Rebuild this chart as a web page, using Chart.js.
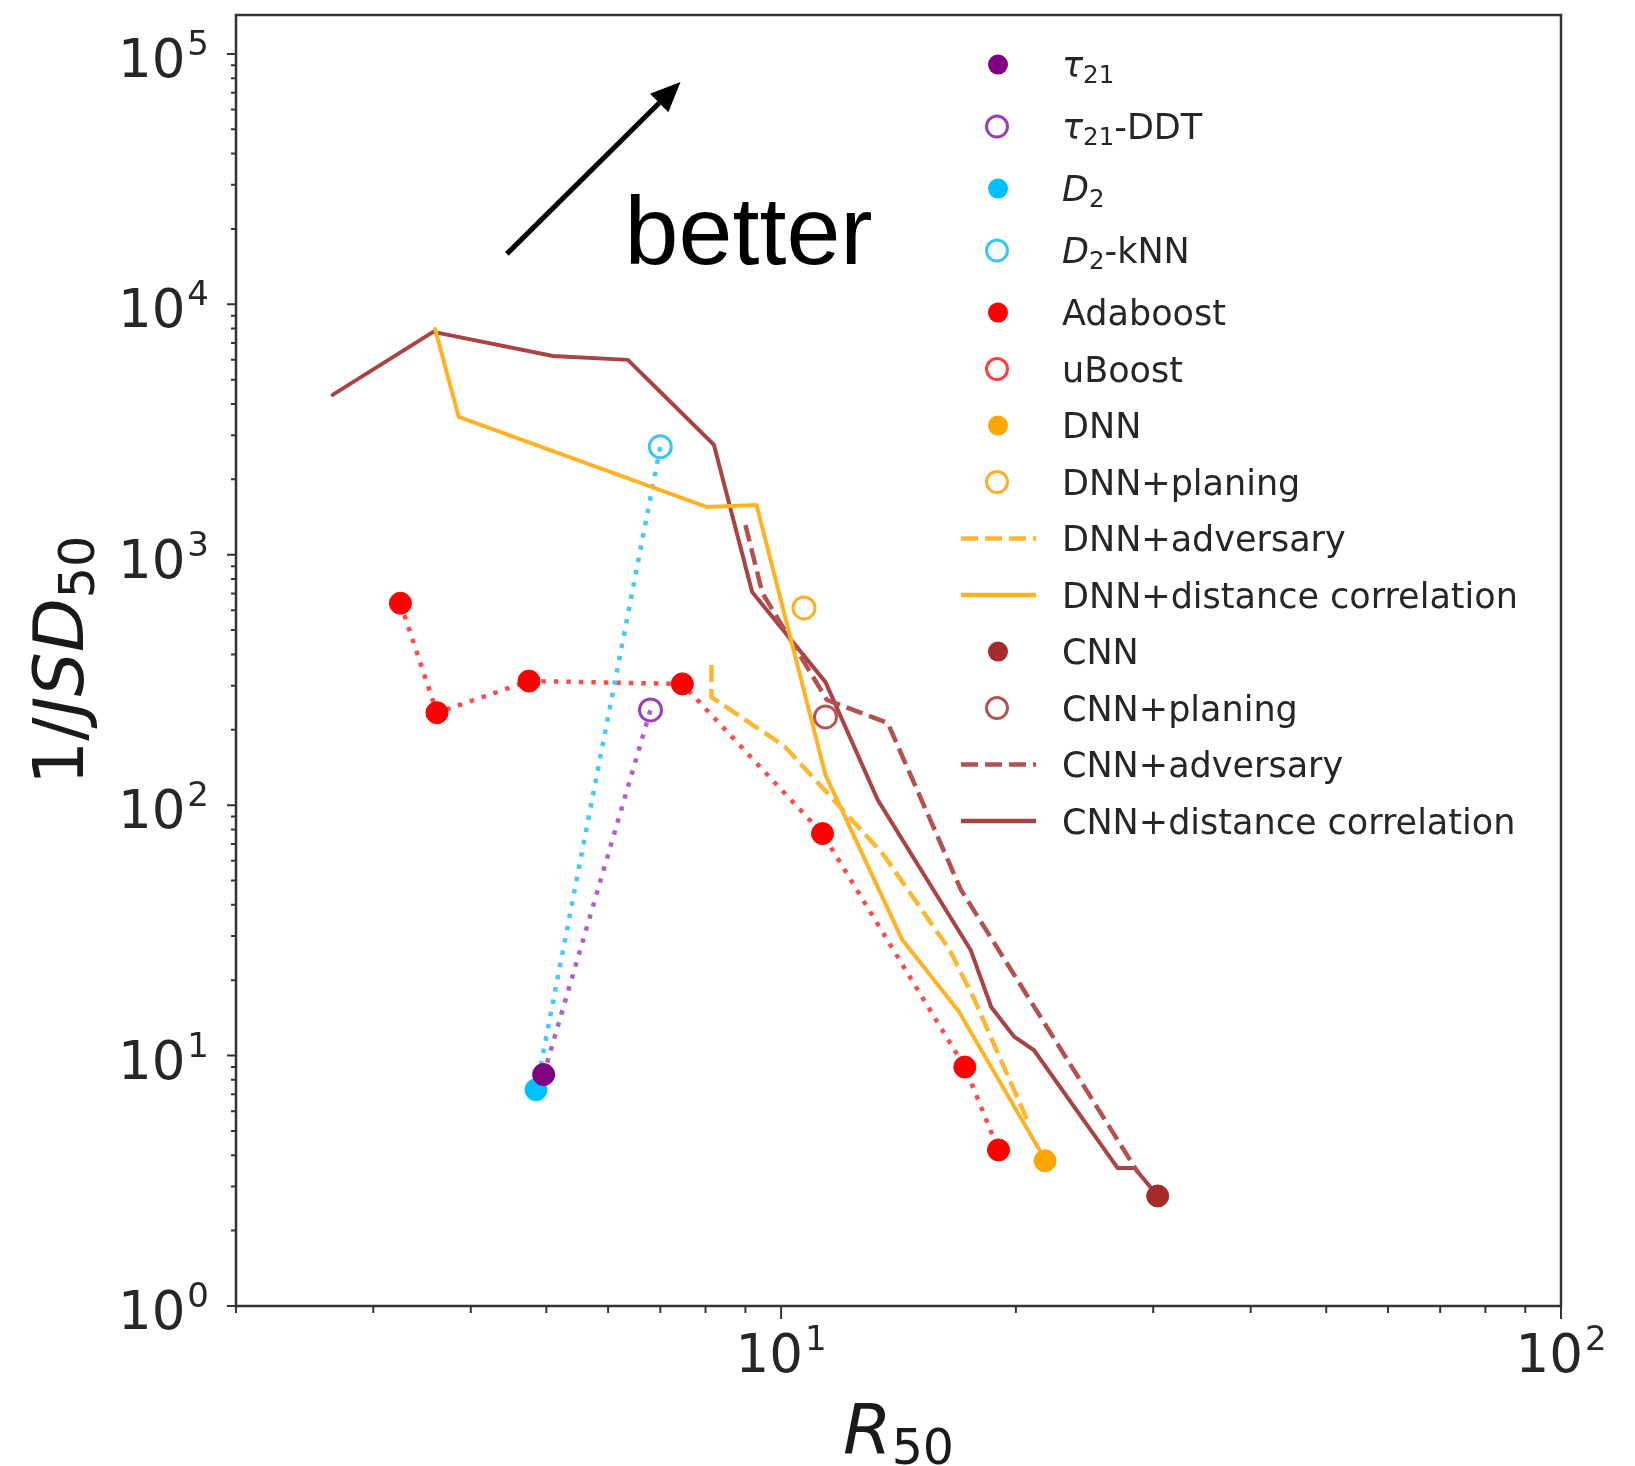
<!DOCTYPE html>
<html>
<head>
<meta charset="utf-8">
<script src="https://cdn.jsdelivr.net/npm/chart.js@4.4.1/dist/chart.umd.min.js"></script>
<style>
  html, body { margin: 0; padding: 0; background: #fff; }
  #wrap { width: 1635px; height: 1466px; }
</style>
</head>
<body>
<div id="wrap"><canvas id="chart" width="1635" height="1466"></canvas></div>
<script>
// R50 (x) and 1/JSD50 (y)
const tau21R50 = [4.96];
const tau21Inv = [8.4];
const tau21DdtR50 = [6.8];
const tau21DdtInv = [240];
const d2R50 = [4.85];
const d2Inv = [7.3];
const d2KnnR50 = [7.0];
const d2KnnInv = [2700];
const adaboostR50 = [3.25, 3.62, 4.75, 7.47, 11.3, 17.2, 19.0];
const adaboostInv = [640, 234, 313, 305, 77, 9.0, 4.2];
const uboostR50 = [];
const uboostInv = [];
const dnnR50 = [21.8];
const dnnInv = [3.8];
const dnnPlaningR50 = [10.7];
const dnnPlaningInv = [613];
const dnnAdvR50 = [8.14, 8.14, 10.1, 13.5, 16.45, 17.7, 20.75];
const dnnAdvInv = [363, 270, 172, 64, 26.4, 16.7, 5.4];
const dnnDcR50 = [3.60, 3.86, 8.04, 9.3, 11.4, 14.3, 16.9, 21.8];
const dnnDcInv = [7980, 3550, 1550, 1580, 132, 29, 15, 3.85];
const cnnR50 = [30.4];
const cnnInv = [2.75];
const cnnPlaningR50 = [11.4];
const cnnPlaningInv = [225];
const cnnAdvR50 = [9.0, 9.46, 11.45, 13.7, 17.0, 28.7];
const cnnAdvInv = [1315, 704, 263, 213, 46, 3.4];
const cnnDcR50 = [2.66, 3.58, 5.1, 6.36, 8.2, 9.18, 11.4, 13.3, 17.5, 18.6, 19.9, 21.1, 27.0, 28.4, 30.4];
const cnnDcInv = [4350, 7760, 6220, 6000, 2750, 710, 310, 105, 26.4, 15.6, 11.9, 10.5, 3.56, 3.56, 2.75];

const xRange = [2, 100];
const yRange = [1, 1.43e5];

// "better" annotation, in data units
const arrowFrom = { x: 4.45, y: 15900 };
const arrowTo = { x: 7.43, y: 77300 };
const betterAt = { x: 6.30, y: 14500 };

const FONT = "'DejaVu Sans', 'Liberation Sans', sans-serif";

function pts(xs, ys) {
  return xs.map((x, i) => ({ x, y: ys[i] }));
}

const series = [
  { text: '*τ*_{21}', kind: 'dot', color: '#800080', xs: tau21R50, ys: tau21Inv },
  { text: '*τ*_{21}-DDT', kind: 'ring', color: '#9a3fb5', xs: tau21DdtR50, ys: tau21DdtInv },
  { text: '*D*_{2}', kind: 'dot', color: '#00bfff', xs: d2R50, ys: d2Inv },
  { text: '*D*_{2}-kNN', kind: 'ring', color: '#3cc4fa', xs: d2KnnR50, ys: d2KnnInv },
  { text: 'Adaboost', kind: 'dot', color: '#ff0000', xs: adaboostR50, ys: adaboostInv },
  { text: 'uBoost', kind: 'ring', color: '#ff4040', xs: uboostR50, ys: uboostInv },
  { text: 'DNN', kind: 'dot', color: '#ffa500', xs: dnnR50, ys: dnnInv },
  { text: 'DNN+planing', kind: 'ring', color: '#ffae2a', xs: dnnPlaningR50, ys: dnnPlaningInv },
  { text: 'DNN+adversary', kind: 'dash', color: '#ffb733', xs: dnnAdvR50, ys: dnnAdvInv },
  { text: 'DNN+distance correlation', kind: 'solid', color: '#ffb224', xs: dnnDcR50, ys: dnnDcInv },
  { text: 'CNN', kind: 'dot', color: '#a52a2a', xs: cnnR50, ys: cnnInv },
  { text: 'CNN+planing', kind: 'ring', color: '#b45555', xs: cnnPlaningR50, ys: cnnPlaningInv },
  { text: 'CNN+adversary', kind: 'dash', color: '#b35050', xs: cnnAdvR50, ys: cnnAdvInv },
  { text: 'CNN+distance correlation', kind: 'solid', color: '#a94444', xs: cnnDcR50, ys: cnnDcInv },
];

// dotted guide lines joining the markers of one method
const connectors = [
  { color: '#b060c8', xs: tau21R50.concat(tau21DdtR50), ys: tau21Inv.concat(tau21DdtInv) },
  { color: '#45c8ff', xs: d2R50.concat(d2KnnR50), ys: d2Inv.concat(d2KnnInv) },
  { color: '#ff4a4a', xs: adaboostR50, ys: adaboostInv },
];

function seriesDataset(s) {
  const base = { label: s.text.replace(/[*_{}]/g, ''), data: pts(s.xs, s.ys), legendKind: s.kind, legendText: s.text, legendColor: s.color };
  if (s.kind === 'dot') {
    return { ...base, showLine: false, pointRadius: 11, pointBackgroundColor: s.color, pointBorderColor: s.color, pointBorderWidth: 1, order: 0 };
  }
  if (s.kind === 'ring') {
    return { ...base, showLine: false, pointRadius: 11, pointBackgroundColor: 'rgba(0,0,0,0)', pointBorderColor: s.color, pointBorderWidth: 3, order: 0 };
  }
  return {
    ...base, showLine: true, pointRadius: 0, borderColor: s.color, backgroundColor: s.color,
    borderWidth: s.kind === 'dash' ? 4.5 : 4, borderDash: s.kind === 'dash' ? [17, 7] : [],
    borderJoinStyle: 'round', borderCapStyle: s.kind === 'dash' ? 'butt' : 'round', tension: 0, fill: false, order: 1,
  };
}

const datasets = series.map(seriesDataset).concat(connectors.map((c) => ({
  data: pts(c.xs, c.ys), showLine: true, pointRadius: 0, borderColor: c.color, borderWidth: 4.5,
  borderDash: [4.5, 8], borderCapStyle: 'butt', tension: 0, fill: false, order: 2,
})));

function parseRich(s) {
  const out = [];
  let italic = false, buf = '', i = 0;
  const push = (sub) => { if (buf) out.push({ t: buf, italic, sub }); buf = ''; };
  while (i < s.length) {
    const c = s[i];
    if (c === '*') { push(false); italic = !italic; i++; }
    else if (c === '_' && s[i + 1] === '{') {
      push(false);
      const j = s.indexOf('}', i);
      buf = s.slice(i + 2, j);
      push(true);
      i = j + 1;
    } else { buf += c; i++; }
  }
  push(false);
  return out;
}

function segFont(seg, size) {
  const sz = seg.sub ? size * 0.7 : size;
  return (seg.italic ? 'italic ' : '') + sz + 'px ' + FONT;
}

function drawRich(ctx, text, x, y, size, align) {
  const segs = parseRich(text);
  let total = 0;
  segs.forEach((s) => { ctx.font = segFont(s, size); s.w = ctx.measureText(s.t).width; total += s.w; });
  let cx = align === 'center' ? x - total / 2 : x;
  ctx.textAlign = 'left';
  ctx.textBaseline = 'alphabetic';
  segs.forEach((s) => {
    ctx.font = segFont(s, size);
    ctx.fillText(s.t, cx, s.sub ? y + size * 0.16 : y);
    cx += s.w;
  });
}

function drawPow(ctx, exp, x, baseline, align) {
  ctx.textBaseline = 'alphabetic';
  ctx.textAlign = 'left';
  ctx.font = '53px ' + FONT;
  const wMain = ctx.measureText('10').width;
  ctx.font = '34px ' + FONT;
  const wSup = ctx.measureText(String(exp)).width;
  const total = wMain + wSup + 2;
  const x0 = align === 'right' ? x - total : x - total / 2;
  ctx.font = '53px ' + FONT;
  ctx.fillText('10', x0, baseline);
  ctx.font = '34px ' + FONT;
  ctx.fillText(String(exp), x0 + wMain + 2, baseline - 22);
}

function decadeTicks(scale) {
  const out = [];
  const lo = Math.floor(Math.log10(scale.min));
  const hi = Math.ceil(Math.log10(scale.max));
  for (let e = lo; e <= hi; e++) {
    for (let m = 1; m < 10; m++) {
      const v = m * Math.pow(10, e);
      if (v >= scale.min * 0.999 && v <= scale.max * 1.001) out.push({ value: v, major: m === 1 });
    }
  }
  scale.ticks = out;
}

const axesPlugin = {
  id: 'axesPlugin',
  afterDraw(chart) {
    const { ctx, chartArea: a } = chart;
    const xs = chart.scales.x, ys = chart.scales.y;
    ctx.save();
    ctx.fillStyle = '#262626';
    ctx.strokeStyle = '#333';

    // tick marks
    ctx.lineWidth = 2;
    ctx.beginPath();
    xs.ticks.forEach((t) => {
      const px = xs.getPixelForValue(t.value);
      ctx.moveTo(px, a.bottom);
      ctx.lineTo(px, a.bottom + (t.major ? 13 : 7));
    });
    ys.ticks.forEach((t) => {
      const py = ys.getPixelForValue(t.value);
      ctx.moveTo(a.left, py);
      ctx.lineTo(a.left - (t.major ? 9 : 5), py);
    });
    ctx.stroke();

    // frame
    ctx.lineWidth = 2.5;
    ctx.strokeRect(a.left, a.top, a.right - a.left, a.bottom - a.top);

    // tick labels
    xs.ticks.filter((t) => t.major).forEach((t) => {
      drawPow(ctx, Math.round(Math.log10(t.value)), xs.getPixelForValue(t.value), a.bottom + 66, 'center');
    });
    ys.ticks.filter((t) => t.major).forEach((t) => {
      drawPow(ctx, Math.round(Math.log10(t.value)), a.left - 27, ys.getPixelForValue(t.value) + 23, 'right');
    });

    // axis titles
    ctx.fillStyle = '#1a1a1a';
    drawRich(ctx, '*R*_{50}', (a.left + a.right) / 2, a.bottom + 147, 70, 'center');
    ctx.save();
    ctx.translate(83, (a.top + a.bottom) / 2);
    ctx.rotate(-Math.PI / 2);
    drawRich(ctx, '1/*JSD*_{50}', 0, 0, 70, 'center');
    ctx.restore();

    // "better" arrow
    const x0 = xs.getPixelForValue(arrowFrom.x), y0 = ys.getPixelForValue(arrowFrom.y);
    const x1 = xs.getPixelForValue(arrowTo.x), y1 = ys.getPixelForValue(arrowTo.y);
    const ang = Math.atan2(y1 - y0, x1 - x0);
    const head = 30, half = 13;
    const bx = x1 - head * Math.cos(ang), by = y1 - head * Math.sin(ang);
    ctx.strokeStyle = '#000';
    ctx.fillStyle = '#000';
    ctx.lineWidth = 5;
    ctx.beginPath();
    ctx.moveTo(x0, y0);
    ctx.lineTo(bx, by);
    ctx.stroke();
    ctx.beginPath();
    ctx.moveTo(x1, y1);
    ctx.lineTo(bx + half * Math.sin(ang), by - half * Math.cos(ang));
    ctx.lineTo(bx - half * Math.sin(ang), by + half * Math.cos(ang));
    ctx.closePath();
    ctx.fill();
    ctx.font = "97px 'Liberation Sans', Arial, sans-serif";
    ctx.textAlign = 'left';
    ctx.textBaseline = 'alphabetic';
    ctx.fillText('better', xs.getPixelForValue(betterAt.x), ys.getPixelForValue(betterAt.y));

    // legend
    const entries = chart.data.datasets.filter((d) => d.legendKind);
    const markX = 998, textX = 1062;
    let rowY = 64.6;
    entries.forEach((d, i) => {
      if (i > 0) {
        const subRow = d.legendText.includes('_{') || entries[i - 1].legendText.includes('_{');
        rowY += subRow ? 62 : 56.5;
      }
      ctx.save();
      if (d.legendKind === 'dot') {
        ctx.fillStyle = d.legendColor;
        ctx.beginPath();
        ctx.arc(markX, rowY, 10, 0, Math.PI * 2);
        ctx.fill();
      } else if (d.legendKind === 'ring') {
        ctx.strokeStyle = d.legendColor;
        ctx.lineWidth = 3;
        ctx.beginPath();
        ctx.arc(markX - 1, rowY, 10.5, 0, Math.PI * 2);
        ctx.stroke();
      } else {
        ctx.strokeStyle = d.legendColor;
        ctx.lineWidth = 4.5;
        ctx.setLineDash(d.legendKind === 'dash' ? [17, 7] : []);
        ctx.beginPath();
        ctx.moveTo(961, rowY);
        ctx.lineTo(1036, rowY);
        ctx.stroke();
      }
      ctx.restore();
      ctx.fillStyle = '#262626';
      drawRich(ctx, d.legendText, textX, rowY + 12.5, 35, 'left');
    });

    ctx.restore();
  },
};

new Chart(document.getElementById('chart'), {
  type: 'scatter',
  data: { datasets },
  options: {
    responsive: false,
    animation: false,
    events: [],
    layout: { autoPadding: false, padding: { left: 0, top: 15, right: 74, bottom: 0 } },
    plugins: { legend: { display: false }, tooltip: { enabled: false } },
    scales: {
      x: {
        type: 'logarithmic', min: xRange[0], max: xRange[1],
        grid: { display: false }, border: { display: false }, ticks: { display: false },
        afterBuildTicks: decadeTicks,
        afterFit: (scale) => { scale.height = 160; },
      },
      y: {
        type: 'logarithmic', min: yRange[0], max: yRange[1],
        grid: { display: false }, border: { display: false }, ticks: { display: false },
        afterBuildTicks: decadeTicks,
        afterFit: (scale) => { scale.width = 236; },
      },
    },
  },
  plugins: [axesPlugin],
});
</script>
</body>
</html>
